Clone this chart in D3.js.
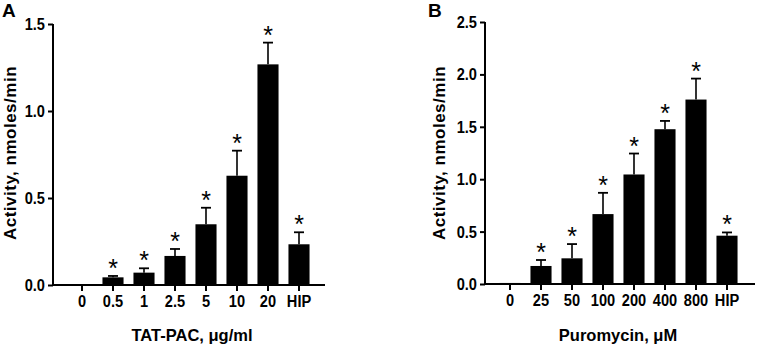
<!DOCTYPE html>
<html>
<head>
<meta charset="utf-8">
<script src="https://cdn.jsdelivr.net/npm/d3@7"></script>
<style>
  body { margin: 0; background: #fff; }
  text { font-family: "Liberation Sans", Arial, sans-serif; font-weight: bold; fill: #000; }
</style>
</head>
<body>
<div id="chart"></div>
<script>
// data
var catsA = ['0', '0.5', '1', '2.5', '5', '10', '20', 'HIP'];
var meanA = [0.005, 0.044, 0.071, 0.167, 0.349, 0.628, 1.268, 0.234];
var errA  = [0, 0.052, 0.096, 0.207, 0.444, 0.772, 1.393, 0.303];
var starA = [false, true, true, true, true, true, true, true];
var ticksA = [0, 0.5, 1.0, 1.5];

var catsB = ['0', '25', '50', '100', '200', '400', '800', 'HIP'];
var meanB = [0.01, 0.172, 0.245, 0.667, 1.045, 1.477, 1.760, 0.461];
var errB  = [0, 0.229, 0.381, 0.870, 1.245, 1.556, 1.960, 0.492];
var starB = [false, true, true, true, true, true, true, true];
var ticksB = [0, 0.5, 1.0, 1.5, 2.0, 2.5];

var width = 758, height = 350;
var squeeze = 0.86; // tick labels in the figure are a condensed face

var svg = d3.select('#chart').append('svg')
    .attr('width', width)
    .attr('height', height);

function panel(opt) {
  var g = svg.append('g');

  var x = d3.scaleBand()
      .domain(opt.cats)
      .range([opt.bandStart, opt.bandStart + 31 * opt.cats.length])
      .paddingInner(0.32)
      .paddingOuter(0.16);

  var y = d3.scaleLinear()
      .domain([0, opt.ymax])
      .range([opt.y0, opt.ytop]);

  // bars
  g.selectAll('rect.bar')
    .data(opt.cats)
    .enter().append('rect')
    .attr('class', 'bar')
    .attr('x', function(d) { return x(d); })
    .attr('width', x.bandwidth())
    .attr('y', function(d, i) { return y(opt.mean[i]); })
    .attr('height', function(d, i) { return y(0) - y(opt.mean[i]); })
    .style('fill', '#000');

  // error bars (upper only)
  var eb = g.selectAll('g.err')
    .data(opt.cats.filter(function(d, i) { return opt.err[i] > 0; }))
    .enter().append('g')
    .attr('class', 'err');
  eb.append('line')
    .attr('x1', function(d) { return x(d) + x.bandwidth() / 2; })
    .attr('x2', function(d) { return x(d) + x.bandwidth() / 2; })
    .attr('y1', function(d) { return y(opt.mean[opt.cats.indexOf(d)]); })
    .attr('y2', function(d) { return y(opt.err[opt.cats.indexOf(d)]); })
    .style('stroke', '#000').style('stroke-width', 1.6);
  eb.append('line')
    .attr('x1', function(d) { return x(d) + x.bandwidth() / 2 - 5; })
    .attr('x2', function(d) { return x(d) + x.bandwidth() / 2 + 5; })
    .attr('y1', function(d) { return y(opt.err[opt.cats.indexOf(d)]); })
    .attr('y2', function(d) { return y(opt.err[opt.cats.indexOf(d)]); })
    .style('stroke', '#000').style('stroke-width', 1.8);

  // asterisks
  g.selectAll('text.star')
    .data(opt.cats.filter(function(d, i) { return opt.star[i]; }))
    .enter().append('text')
    .attr('class', 'star')
    .attr('x', function(d) { return x(d) + x.bandwidth() / 2; })
    .attr('y', function(d) { return y(opt.err[opt.cats.indexOf(d)]) + 1; })
    .attr('text-anchor', 'middle')
    .style('font-size', '25px')
    .style('font-weight', 'normal')
    .text('*');

  // y axis
  var yAxis = d3.axisLeft(y)
      .tickValues(opt.ticks)
      .tickFormat(d3.format('.1f'))
      .tickSize(5)
      .tickPadding(3);
  var ya = g.append('g')
    .attr('class', 'y axis')
    .attr('transform', 'translate(' + opt.x0 + ',0)')
    .call(yAxis);
  ya.select('.domain').attr('d', 'M0,' + opt.ytop + 'V' + opt.y0)
    .style('stroke', '#000').style('stroke-width', 2);
  ya.selectAll('.tick line').style('stroke', '#000').style('stroke-width', 2);
  ya.selectAll('.tick text')
    .attr('x', -8 / squeeze)
    .attr('transform', 'scale(' + squeeze + ',1)')
    .style('font-size', '17px')
    .style('font-family', '"Liberation Sans", Arial, sans-serif')
    .style('font-weight', 'bold');

  // x axis
  var xAxis = d3.axisBottom(x)
      .tickSize(6)
      .tickPadding(4);
  var xa = g.append('g')
    .attr('class', 'x axis')
    .attr('transform', 'translate(0,' + opt.y0 + ')')
    .call(xAxis);
  xa.select('.domain').attr('d', 'M' + (opt.x0 - 1) + ',0H' + opt.xend)
    .style('stroke', '#000').style('stroke-width', 2);
  xa.selectAll('.tick line').style('stroke', '#000').style('stroke-width', 2);
  xa.selectAll('.tick text')
    .attr('transform', 'scale(' + squeeze + ',1)')
    .style('font-size', '17px')
    .style('font-family', '"Liberation Sans", Arial, sans-serif')
    .style('font-weight', 'bold');

  // titles
  g.append('text')
    .attr('x', opt.xTitleX)
    .attr('y', 341)
    .attr('text-anchor', 'middle')
    .style('font-size', '16.5px')
    .text(opt.xTitle);

  g.append('text')
    .attr('transform', 'translate(' + opt.yTitleX + ',153) rotate(-90)')
    .attr('text-anchor', 'middle')
    .style('font-size', '17px')
    .style('letter-spacing', '0.5px')
    .text('Activity, nmoles/min');

  g.append('text')
    .attr('x', opt.letterX)
    .attr('y', 17)
    .style('font-size', '19px')
    .text(opt.letter);
}

panel({
  cats: catsA, mean: meanA, err: errA, star: starA, ticks: ticksA,
  ymax: 1.5, x0: 53, xend: 325, y0: 285, ytop: 24, bandStart: 66.5,
  xTitle: 'TAT-PAC, \u03bcg/ml', xTitleX: 192, yTitleX: 16,
  letter: 'A', letterX: 2
});

panel({
  cats: catsB, mean: meanB, err: errB, star: starB, ticks: ticksB,
  ymax: 2.5, x0: 485, xend: 755, y0: 284, ytop: 22, bandStart: 494.5,
  xTitle: 'Puromycin, \u03bcM', xTitleX: 618, yTitleX: 445,
  letter: 'B', letterX: 428
});
</script>
</body>
</html>
